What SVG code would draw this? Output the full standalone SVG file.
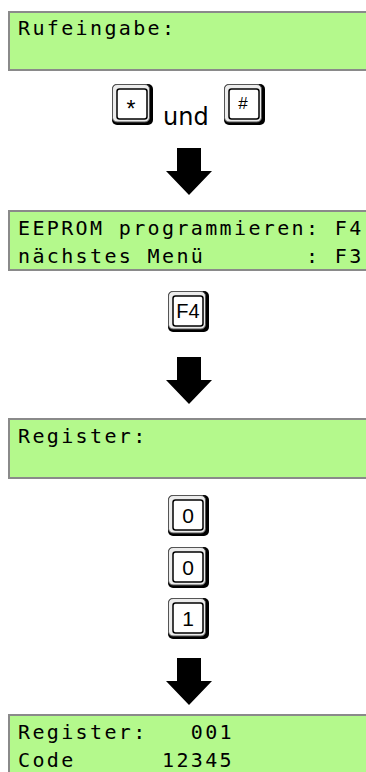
<svg xmlns="http://www.w3.org/2000/svg" xmlns:xlink="http://www.w3.org/1999/xlink" width="366" height="772" viewBox="0 0 366 772">
<style>
.lcd{fill:#b4f98c;stroke:#8a8a8a;stroke-width:2}
.mono{font-family:"DejaVu Sans Mono","Liberation Mono",monospace;font-size:20px;letter-spacing:2.36px;fill:#000;white-space:pre}
.keylbl{font-family:"Liberation Sans",Arial,sans-serif;fill:#000;text-anchor:middle}
.und{font-family:"DejaVu Sans","Liberation Sans",sans-serif;font-size:24px;fill:#000}
.arrow{fill:#000}
</style>
<defs>
<g id="keycap">
<rect x="0" y="0" width="41" height="41" rx="5" fill="#000"/>
<rect x="0.5" y="0.5" width="37" height="37.5" rx="4.5" fill="#ececec" stroke="#555" stroke-width="1"/>
<rect x="5" y="5" width="30" height="30" rx="2.5" fill="#fff" stroke="#000" stroke-width="1.5"/>
</g>
</defs>
<rect width="366" height="772" fill="#fff"/>

<g id="lcd-rufeingabe">
<rect class="lcd" x="9" y="12" width="380" height="58"/>
<text class="mono" x="18" y="35">Rufeingabe:</text>
</g>

<g id="key-star">
<use xlink:href="#keycap" x="112" y="84"/>
<text class="keylbl" x="131" y="117" font-size="23">*</text>
</g>
<g id="label-und">
<text class="und" x="163" y="125">und</text>
</g>
<g id="key-hash">
<use xlink:href="#keycap" x="224" y="84"/>
<text class="keylbl" x="243" y="109" font-size="17">#</text>
</g>

<g id="lcd-menu">
<rect class="lcd" x="9" y="211" width="380" height="59"/>
<text class="mono" x="18" y="235">EEPROM programmieren: F4</text>
<text class="mono" x="18" y="263">nächstes Menü       : F3</text>
</g>

<g id="key-f4">
<use xlink:href="#keycap" x="168" y="291"/>
<text class="keylbl" x="188" y="318" font-size="20">F4</text>
</g>

<g id="lcd-register">
<rect class="lcd" x="9" y="419" width="380" height="59"/>
<text class="mono" x="18" y="443">Register:</text>
</g>

<g id="key-0a">
<use xlink:href="#keycap" x="168" y="495"/>
<text class="keylbl" x="188" y="523" font-size="21">0</text>
</g>
<g id="key-0b">
<use xlink:href="#keycap" x="168" y="547"/>
<text class="keylbl" x="188" y="575" font-size="21">0</text>
</g>
<g id="key-1">
<use xlink:href="#keycap" x="168" y="598"/>
<text class="keylbl" x="188" y="626" font-size="21">1</text>
</g>

<g id="lcd-result">
<rect class="lcd" x="9" y="715" width="380" height="70"/>
<text class="mono" x="18" y="739">Register:   001</text>
<text class="mono" x="18" y="767">Code      12345</text>
</g>

<g id="connectors">
<polygon class="arrow" points="177,148 201,148 201,171 212,171 189,195 166,171 177,171"/>
<polygon class="arrow" points="177,357 201,357 201,380 212,380 189,404 166,380 177,380"/>
<polygon class="arrow" points="177,658 201,658 201,681 212,681 189,705 166,681 177,681"/>
</g>
</svg>
